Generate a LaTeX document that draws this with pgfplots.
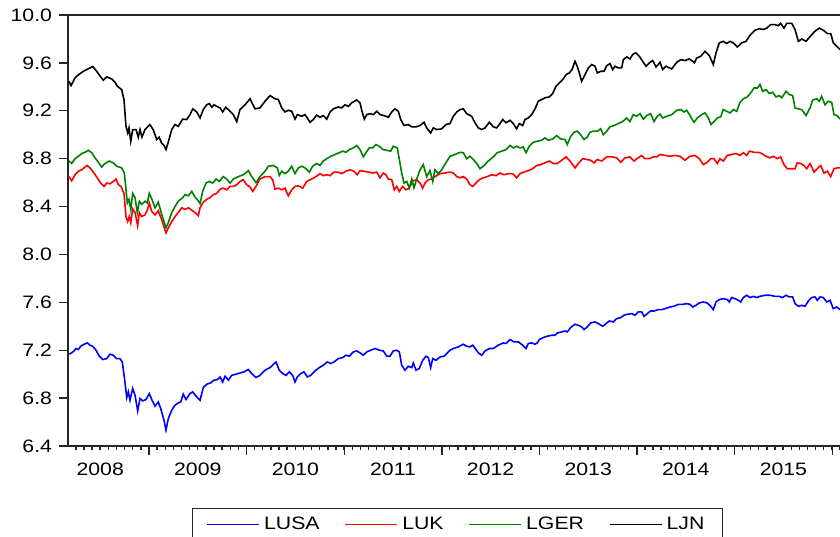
\documentclass[border=0pt]{standalone}
\usepackage{fontspec}
\setmainfont{Liberation Sans}[FakeStretch=1.18]
\usepackage{pgfplots}
\pgfplotsset{compat=1.18}

\definecolor{usablue}{RGB}{0,0,255}
\definecolor{ukred}{RGB}{255,0,0}
\definecolor{gergreen}{RGB}{0,128,0}

\pgfplotstableread{
x y
2008.183 7.167
2008.208 7.178
2008.232 7.194
2008.252 7.214
2008.276 7.206
2008.300 7.233
2008.334 7.250
2008.368 7.261
2008.396 7.242
2008.423 7.233
2008.457 7.200
2008.491 7.150
2008.526 7.122
2008.567 7.130
2008.600 7.167
2008.634 7.158
2008.669 7.130
2008.703 7.130
2008.726 7.102
2008.747 6.977
2008.772 6.805
2008.788 6.852
2008.805 6.782
2008.833 6.880
2008.857 6.824
2008.884 6.693
2008.908 6.797
2008.935 6.777
2008.969 6.788
2009.003 6.838
2009.028 6.788
2009.062 6.732
2009.095 6.768
2009.120 6.713
2009.154 6.615
2009.174 6.532
2009.198 6.630
2009.233 6.699
2009.266 6.740
2009.300 6.760
2009.325 6.768
2009.351 6.833
2009.379 6.788
2009.420 6.838
2009.448 6.852
2009.489 6.810
2009.523 6.782
2009.556 6.888
2009.591 6.916
2009.632 6.927
2009.666 6.950
2009.700 6.955
2009.728 6.977
2009.755 6.935
2009.779 6.983
2009.813 6.950
2009.847 6.990
2009.891 7.000
2009.932 7.010
2009.973 7.019
2010.018 7.039
2010.052 7.005
2010.096 6.972
2010.137 6.990
2010.189 7.033
2010.240 7.055
2010.301 7.102
2010.335 7.033
2010.370 7.005
2010.404 6.990
2010.438 7.019
2010.472 6.990
2010.496 6.935
2010.520 6.977
2010.554 7.005
2010.588 7.019
2010.622 6.977
2010.657 6.990
2010.701 7.027
2010.745 7.055
2010.786 7.075
2010.827 7.102
2010.862 7.089
2010.895 7.102
2010.940 7.130
2010.985 7.139
2011.018 7.158
2011.052 7.150
2011.093 7.186
2011.128 7.194
2011.162 7.178
2011.196 7.158
2011.231 7.186
2011.272 7.200
2011.316 7.214
2011.360 7.200
2011.401 7.194
2011.435 7.150
2011.469 7.150
2011.503 7.194
2011.538 7.200
2011.565 7.186
2011.589 7.075
2011.623 7.033
2011.657 7.066
2011.692 7.055
2011.708 7.094
2011.736 7.033
2011.769 7.047
2011.804 7.116
2011.838 7.150
2011.862 7.139
2011.886 7.055
2011.907 7.130
2011.941 7.116
2011.982 7.144
2012.023 7.150
2012.056 7.178
2012.084 7.200
2012.118 7.214
2012.169 7.228
2012.220 7.250
2012.255 7.233
2012.289 7.228
2012.317 7.242
2012.350 7.206
2012.374 7.178
2012.409 7.158
2012.443 7.194
2012.487 7.214
2012.528 7.214
2012.579 7.242
2012.630 7.261
2012.658 7.256
2012.699 7.289
2012.740 7.270
2012.784 7.270
2012.829 7.242
2012.863 7.214
2012.886 7.256
2012.921 7.261
2012.955 7.250
2012.978 7.261
2012.999 7.289
2013.040 7.306
2013.081 7.317
2013.126 7.325
2013.160 7.325
2013.183 7.344
2013.229 7.353
2013.262 7.361
2013.286 7.353
2013.321 7.390
2013.365 7.417
2013.399 7.408
2013.433 7.395
2013.457 7.373
2013.491 7.395
2013.526 7.428
2013.570 7.436
2013.604 7.422
2013.649 7.400
2013.682 7.422
2013.716 7.444
2013.757 7.436
2013.792 7.464
2013.833 7.472
2013.867 7.492
2013.901 7.500
2013.946 7.506
2013.980 7.492
2014.013 7.520
2014.048 7.520
2014.072 7.483
2014.106 7.506
2014.140 7.528
2014.174 7.528
2014.218 7.539
2014.253 7.539
2014.287 7.547
2014.338 7.561
2014.379 7.567
2014.423 7.583
2014.468 7.583
2014.509 7.589
2014.543 7.583
2014.571 7.561
2014.604 7.575
2014.638 7.595
2014.679 7.603
2014.720 7.595
2014.755 7.567
2014.782 7.539
2014.809 7.603
2014.843 7.623
2014.884 7.631
2014.925 7.623
2014.946 7.603
2014.970 7.640
2015.004 7.631
2015.038 7.617
2015.063 7.603
2015.089 7.640
2015.124 7.659
2015.158 7.640
2015.192 7.650
2015.227 7.640
2015.260 7.650
2015.312 7.659
2015.363 7.659
2015.414 7.650
2015.458 7.650
2015.493 7.640
2015.527 7.659
2015.560 7.645
2015.595 7.645
2015.619 7.589
2015.653 7.567
2015.688 7.575
2015.721 7.567
2015.755 7.611
2015.790 7.640
2015.824 7.645
2015.847 7.617
2015.875 7.645
2015.909 7.640
2015.944 7.603
2015.978 7.617
2016.011 7.547
2016.046 7.561
2016.080 7.539
}\lusa

\pgfplotstableread{
x y
2008.180 8.650
2008.208 8.615
2008.242 8.666
2008.276 8.695
2008.311 8.707
2008.344 8.730
2008.368 8.743
2008.403 8.716
2008.436 8.680
2008.470 8.640
2008.505 8.596
2008.539 8.568
2008.567 8.596
2008.600 8.590
2008.634 8.610
2008.662 8.630
2008.686 8.582
2008.713 8.568
2008.744 8.510
2008.764 8.316
2008.782 8.275
2008.798 8.316
2008.813 8.265
2008.833 8.380
2008.857 8.350
2008.884 8.240
2008.901 8.350
2008.925 8.316
2008.959 8.330
2008.983 8.370
2009.003 8.430
2009.028 8.360
2009.062 8.330
2009.095 8.365
2009.130 8.290
2009.174 8.180
2009.198 8.222
2009.233 8.275
2009.266 8.316
2009.300 8.350
2009.335 8.390
2009.369 8.376
2009.403 8.390
2009.438 8.370
2009.471 8.350
2009.505 8.323
2009.523 8.390
2009.556 8.437
2009.591 8.460
2009.625 8.474
2009.659 8.500
2009.694 8.510
2009.728 8.545
2009.761 8.554
2009.796 8.540
2009.830 8.568
2009.864 8.568
2009.899 8.582
2009.932 8.610
2009.966 8.624
2010.001 8.582
2010.035 8.563
2010.063 8.527
2010.096 8.568
2010.137 8.630
2010.189 8.650
2010.240 8.650
2010.267 8.624
2010.291 8.545
2010.325 8.554
2010.360 8.540
2010.393 8.554
2010.427 8.490
2010.462 8.540
2010.496 8.568
2010.530 8.573
2010.575 8.554
2010.616 8.610
2010.667 8.630
2010.711 8.650
2010.752 8.675
2010.786 8.658
2010.821 8.666
2010.855 8.658
2010.895 8.688
2010.940 8.688
2010.974 8.675
2011.018 8.695
2011.059 8.707
2011.100 8.695
2011.134 8.666
2011.162 8.700
2011.203 8.695
2011.247 8.688
2011.292 8.680
2011.333 8.688
2011.367 8.640
2011.401 8.680
2011.428 8.666
2011.452 8.630
2011.487 8.624
2011.513 8.540
2011.538 8.568
2011.565 8.527
2011.599 8.568
2011.633 8.540
2011.667 8.554
2011.702 8.615
2011.743 8.624
2011.777 8.596
2011.804 8.554
2011.828 8.596
2011.862 8.624
2011.897 8.630
2011.930 8.650
2011.982 8.675
2012.033 8.680
2012.084 8.688
2012.118 8.680
2012.153 8.650
2012.187 8.640
2012.220 8.650
2012.255 8.630
2012.289 8.582
2012.317 8.568
2012.350 8.596
2012.384 8.624
2012.425 8.640
2012.466 8.650
2012.511 8.666
2012.555 8.658
2012.596 8.680
2012.637 8.666
2012.681 8.675
2012.726 8.675
2012.767 8.640
2012.801 8.675
2012.842 8.688
2012.886 8.700
2012.931 8.716
2012.972 8.743
2013.013 8.750
2013.057 8.765
2013.101 8.780
2013.142 8.760
2013.183 8.760
2013.229 8.787
2013.273 8.815
2013.314 8.780
2013.365 8.723
2013.399 8.760
2013.444 8.800
2013.485 8.793
2013.526 8.787
2013.560 8.765
2013.593 8.793
2013.638 8.780
2013.690 8.815
2013.741 8.815
2013.792 8.807
2013.833 8.770
2013.877 8.807
2013.928 8.815
2013.969 8.780
2014.013 8.807
2014.048 8.827
2014.082 8.800
2014.126 8.800
2014.167 8.815
2014.202 8.815
2014.236 8.835
2014.287 8.827
2014.338 8.820
2014.389 8.827
2014.440 8.820
2014.492 8.787
2014.543 8.820
2014.594 8.827
2014.638 8.800
2014.679 8.750
2014.720 8.770
2014.755 8.800
2014.789 8.800
2014.823 8.760
2014.850 8.800
2014.884 8.780
2014.925 8.827
2014.970 8.835
2015.014 8.843
2015.055 8.827
2015.089 8.850
2015.124 8.827
2015.151 8.863
2015.199 8.853
2015.243 8.853
2015.278 8.843
2015.322 8.820
2015.363 8.807
2015.397 8.820
2015.438 8.800
2015.472 8.815
2015.506 8.750
2015.540 8.716
2015.585 8.716
2015.619 8.716
2015.642 8.765
2015.677 8.760
2015.711 8.743
2015.739 8.716
2015.773 8.760
2015.814 8.688
2015.847 8.716
2015.882 8.743
2015.916 8.680
2015.950 8.695
2015.985 8.650
2016.018 8.716
2016.052 8.723
2016.080 8.723
}\luk

\pgfplotstableread{
x y
2008.180 8.780
2008.208 8.760
2008.242 8.800
2008.276 8.820
2008.311 8.843
2008.344 8.853
2008.378 8.870
2008.413 8.850
2008.447 8.807
2008.481 8.770
2008.515 8.730
2008.549 8.760
2008.593 8.780
2008.634 8.765
2008.669 8.737
2008.720 8.723
2008.747 8.680
2008.764 8.543
2008.778 8.430
2008.795 8.460
2008.813 8.376
2008.833 8.510
2008.857 8.474
2008.880 8.350
2008.901 8.445
2008.925 8.418
2008.959 8.445
2008.983 8.430
2009.003 8.510
2009.028 8.465
2009.062 8.390
2009.095 8.437
2009.130 8.335
2009.174 8.222
2009.198 8.265
2009.233 8.350
2009.266 8.400
2009.300 8.445
2009.345 8.474
2009.369 8.500
2009.403 8.490
2009.438 8.527
2009.471 8.480
2009.505 8.447
2009.523 8.425
2009.550 8.527
2009.584 8.596
2009.618 8.610
2009.653 8.596
2009.687 8.630
2009.720 8.610
2009.761 8.650
2009.796 8.630
2009.830 8.596
2009.864 8.630
2009.915 8.650
2009.966 8.666
2010.018 8.700
2010.052 8.650
2010.096 8.600
2010.137 8.650
2010.189 8.695
2010.222 8.737
2010.274 8.743
2010.315 8.723
2010.335 8.660
2010.360 8.695
2010.393 8.675
2010.427 8.695
2010.462 8.737
2010.496 8.675
2010.530 8.723
2010.565 8.737
2010.598 8.723
2010.643 8.688
2010.677 8.737
2010.718 8.760
2010.752 8.743
2010.786 8.780
2010.821 8.800
2010.862 8.820
2010.906 8.835
2010.950 8.850
2010.985 8.863
2011.018 8.853
2011.052 8.876
2011.093 8.890
2011.128 8.910
2011.162 8.876
2011.196 8.815
2011.223 8.850
2011.257 8.890
2011.292 8.890
2011.326 8.918
2011.360 8.904
2011.395 8.876
2011.435 8.870
2011.476 8.863
2011.503 8.904
2011.544 8.890
2011.565 8.793
2011.589 8.680
2011.613 8.596
2011.640 8.610
2011.667 8.556
2011.692 8.630
2011.715 8.556
2011.743 8.630
2011.777 8.707
2011.810 8.750
2011.845 8.650
2011.879 8.700
2011.907 8.610
2011.930 8.707
2011.964 8.675
2011.999 8.707
2012.043 8.767
2012.084 8.820
2012.135 8.835
2012.187 8.853
2012.220 8.850
2012.255 8.800
2012.289 8.820
2012.323 8.793
2012.358 8.760
2012.391 8.716
2012.425 8.737
2012.476 8.780
2012.528 8.815
2012.569 8.850
2012.614 8.863
2012.658 8.876
2012.699 8.910
2012.733 8.890
2012.767 8.904
2012.801 8.890
2012.835 8.897
2012.863 8.850
2012.897 8.904
2012.938 8.937
2012.978 8.946
2013.024 8.954
2013.057 8.974
2013.091 8.954
2013.136 8.965
2013.177 8.993
2013.218 8.965
2013.262 8.960
2013.286 8.918
2013.321 8.987
2013.355 9.020
2013.388 9.030
2013.423 9.000
2013.457 8.960
2013.491 8.980
2013.518 9.020
2013.552 9.030
2013.593 9.030
2013.628 9.050
2013.655 9.000
2013.690 9.030
2013.723 9.066
2013.764 9.077
2013.808 9.093
2013.854 9.110
2013.894 9.140
2013.928 9.110
2013.962 9.168
2013.997 9.154
2014.031 9.176
2014.065 9.130
2014.099 9.160
2014.140 9.176
2014.174 9.110
2014.208 9.154
2014.236 9.172
2014.263 9.140
2014.304 9.154
2014.356 9.168
2014.407 9.204
2014.448 9.210
2014.482 9.190
2014.509 9.204
2014.543 9.160
2014.584 9.104
2014.618 9.140
2014.663 9.168
2014.697 9.182
2014.731 9.140
2014.758 9.085
2014.789 9.110
2014.823 9.140
2014.858 9.150
2014.884 9.210
2014.919 9.196
2014.953 9.182
2014.987 9.210
2015.022 9.196
2015.055 9.270
2015.089 9.300
2015.130 9.316
2015.165 9.350
2015.199 9.390
2015.233 9.390
2015.260 9.420
2015.288 9.363
2015.322 9.377
2015.356 9.344
2015.390 9.355
2015.424 9.316
2015.458 9.327
2015.483 9.308
2015.527 9.363
2015.560 9.336
2015.595 9.327
2015.619 9.224
2015.653 9.216
2015.688 9.210
2015.732 9.160
2015.773 9.224
2015.800 9.290
2015.841 9.300
2015.868 9.280
2015.892 9.320
2015.926 9.250
2015.960 9.280
2015.995 9.270
2016.018 9.168
2016.052 9.160
2016.080 9.130
}\lger

\pgfplotstableread{
x y
2008.180 9.446
2008.201 9.410
2008.242 9.475
2008.276 9.500
2008.327 9.530
2008.362 9.544
2008.396 9.558
2008.423 9.570
2008.464 9.530
2008.498 9.490
2008.532 9.455
2008.567 9.483
2008.618 9.466
2008.652 9.438
2008.675 9.405
2008.720 9.377
2008.744 9.290
2008.764 9.070
2008.782 9.015
2008.795 9.057
2008.813 8.945
2008.833 9.043
2008.867 9.043
2008.890 8.980
2008.908 9.043
2008.928 8.980
2008.959 9.043
2009.010 9.085
2009.044 9.040
2009.079 8.960
2009.103 8.980
2009.130 8.930
2009.154 8.910
2009.174 8.876
2009.198 8.940
2009.233 9.043
2009.266 9.085
2009.300 9.070
2009.345 9.130
2009.386 9.127
2009.420 9.168
2009.448 9.216
2009.489 9.190
2009.523 9.140
2009.556 9.210
2009.591 9.250
2009.618 9.260
2009.643 9.230
2009.666 9.250
2009.694 9.237
2009.728 9.224
2009.755 9.190
2009.786 9.230
2009.830 9.196
2009.864 9.168
2009.899 9.110
2009.932 9.210
2009.984 9.250
2010.035 9.300
2010.086 9.216
2010.137 9.224
2010.189 9.280
2010.240 9.327
2010.291 9.300
2010.325 9.294
2010.360 9.224
2010.393 9.190
2010.427 9.204
2010.462 9.196
2010.496 9.130
2010.520 9.168
2010.565 9.154
2010.598 9.168
2010.650 9.104
2010.683 9.127
2010.718 9.163
2010.752 9.146
2010.786 9.160
2010.821 9.130
2010.855 9.190
2010.889 9.216
2010.940 9.232
2010.974 9.224
2011.008 9.250
2011.042 9.237
2011.077 9.266
2011.128 9.290
2011.162 9.266
2011.182 9.196
2011.206 9.130
2011.231 9.168
2011.264 9.176
2011.298 9.168
2011.333 9.196
2011.367 9.168
2011.408 9.160
2011.452 9.146
2011.487 9.190
2011.520 9.216
2011.554 9.196
2011.579 9.127
2011.613 9.077
2011.657 9.085
2011.692 9.066
2011.736 9.066
2011.777 9.077
2011.818 9.104
2011.845 9.057
2011.886 9.015
2011.913 9.057
2011.948 9.043
2011.999 9.049
2012.043 9.085
2012.084 9.093
2012.118 9.154
2012.153 9.190
2012.187 9.210
2012.220 9.216
2012.255 9.176
2012.306 9.154
2012.340 9.100
2012.374 9.057
2012.409 9.043
2012.443 9.057
2012.487 9.104
2012.528 9.066
2012.563 9.057
2012.596 9.093
2012.624 9.127
2012.658 9.100
2012.699 9.120
2012.733 9.093
2012.767 9.049
2012.794 9.093
2012.829 9.077
2012.852 9.127
2012.886 9.140
2012.921 9.168
2012.955 9.216
2012.989 9.280
2013.024 9.294
2013.057 9.308
2013.101 9.316
2013.136 9.344
2013.170 9.405
2013.204 9.433
2013.239 9.460
2013.273 9.502
2013.306 9.516
2013.334 9.544
2013.365 9.613
2013.388 9.570
2013.409 9.516
2013.433 9.446
2013.467 9.502
2013.501 9.558
2013.536 9.586
2013.570 9.572
2013.593 9.516
2013.628 9.530
2013.662 9.530
2013.690 9.577
2013.723 9.594
2013.751 9.544
2013.775 9.572
2013.808 9.558
2013.843 9.558
2013.860 9.627
2013.894 9.650
2013.928 9.633
2013.956 9.670
2013.987 9.685
2014.024 9.655
2014.058 9.613
2014.092 9.572
2014.126 9.600
2014.161 9.620
2014.195 9.566
2014.236 9.605
2014.263 9.544
2014.297 9.572
2014.356 9.550
2014.407 9.605
2014.448 9.627
2014.492 9.620
2014.536 9.633
2014.571 9.613
2014.587 9.600
2014.612 9.641
2014.653 9.655
2014.697 9.697
2014.741 9.660
2014.782 9.586
2014.809 9.683
2014.843 9.767
2014.884 9.780
2014.919 9.762
2014.953 9.780
2014.987 9.767
2015.028 9.733
2015.073 9.767
2015.117 9.780
2015.158 9.830
2015.209 9.873
2015.253 9.885
2015.294 9.879
2015.329 9.890
2015.370 9.920
2015.414 9.920
2015.448 9.910
2015.472 9.930
2015.506 9.890
2015.534 9.930
2015.585 9.930
2015.619 9.879
2015.653 9.780
2015.688 9.800
2015.732 9.780
2015.773 9.820
2015.824 9.865
2015.868 9.890
2015.909 9.873
2015.950 9.845
2015.985 9.845
2016.011 9.767
2016.046 9.740
2016.080 9.712
}\ljn

\begin{document}
\begin{tikzpicture}
\begin{axis}[
    scale only axis, width=386pt, height=215.5pt,
    xmin=2008.17, xmax=2016.08, ymin=6.4, ymax=10.0,
    axis x line=box, axis y line=left,
    axis line style={-, line width=0.9pt, black!85},
    tick align=outside, xtick pos=bottom, ytick pos=left,
    major tick length=4.5pt, minor tick length=2.2pt,
    every tick/.style={black!85, line width=0.7pt},
    xtick={2009,2010,2011,2012,2013,2014,2015,2016},
    xticklabels={},
    minor xtick={2008.25,2008.333333,...,2016.05},
    extra x ticks={2008.5,2009.5,2010.5,2011.5,2012.5,2013.5,2014.5,2015.5},
    extra x tick labels={2008,2009,2010,2011,2012,2013,2014,2015},
    extra x tick style={major tick length=0pt, xticklabel style={yshift=-5pt}},
    ytick={6.4,6.8,7.2,7.6,8.0,8.4,8.8,9.2,9.6,10.0},
    yticklabel style={/pgf/number format/.cd, fixed, fixed zerofill, precision=1},
    /pgf/number format/assume math mode=true,
    tick label style={font=\fontsize{9}{10}\selectfont, text=black},
    legend columns=4,
    legend style={at={(0.5045,0)}, anchor=north, yshift=-31pt,
      draw=black!85, line width=0.7pt, font=\fontsize{9}{10}\selectfont,
      inner xsep=7pt, inner ysep=2pt,
      /tikz/every even column/.append style={column sep=10.5pt}},
    legend image code/.code={\draw[#1] (0pt,0pt) -- (26pt,0pt);},
  ]
  \addplot[usablue, line width=0.8pt] table {\lusa};
  \addlegendentry{LUSA}
  \addplot[ukred, line width=0.8pt] table {\luk};
  \addlegendentry{LUK}
  \addplot[gergreen, line width=0.8pt] table {\lger};
  \addlegendentry{LGER}
  \addplot[black, line width=0.8pt] table {\ljn};
  \addlegendentry{LJN}
\end{axis}
\pgfresetboundingbox
\path[use as bounding box] (-34pt,-45pt) rectangle (386pt,223pt);
\end{tikzpicture}
\end{document}
